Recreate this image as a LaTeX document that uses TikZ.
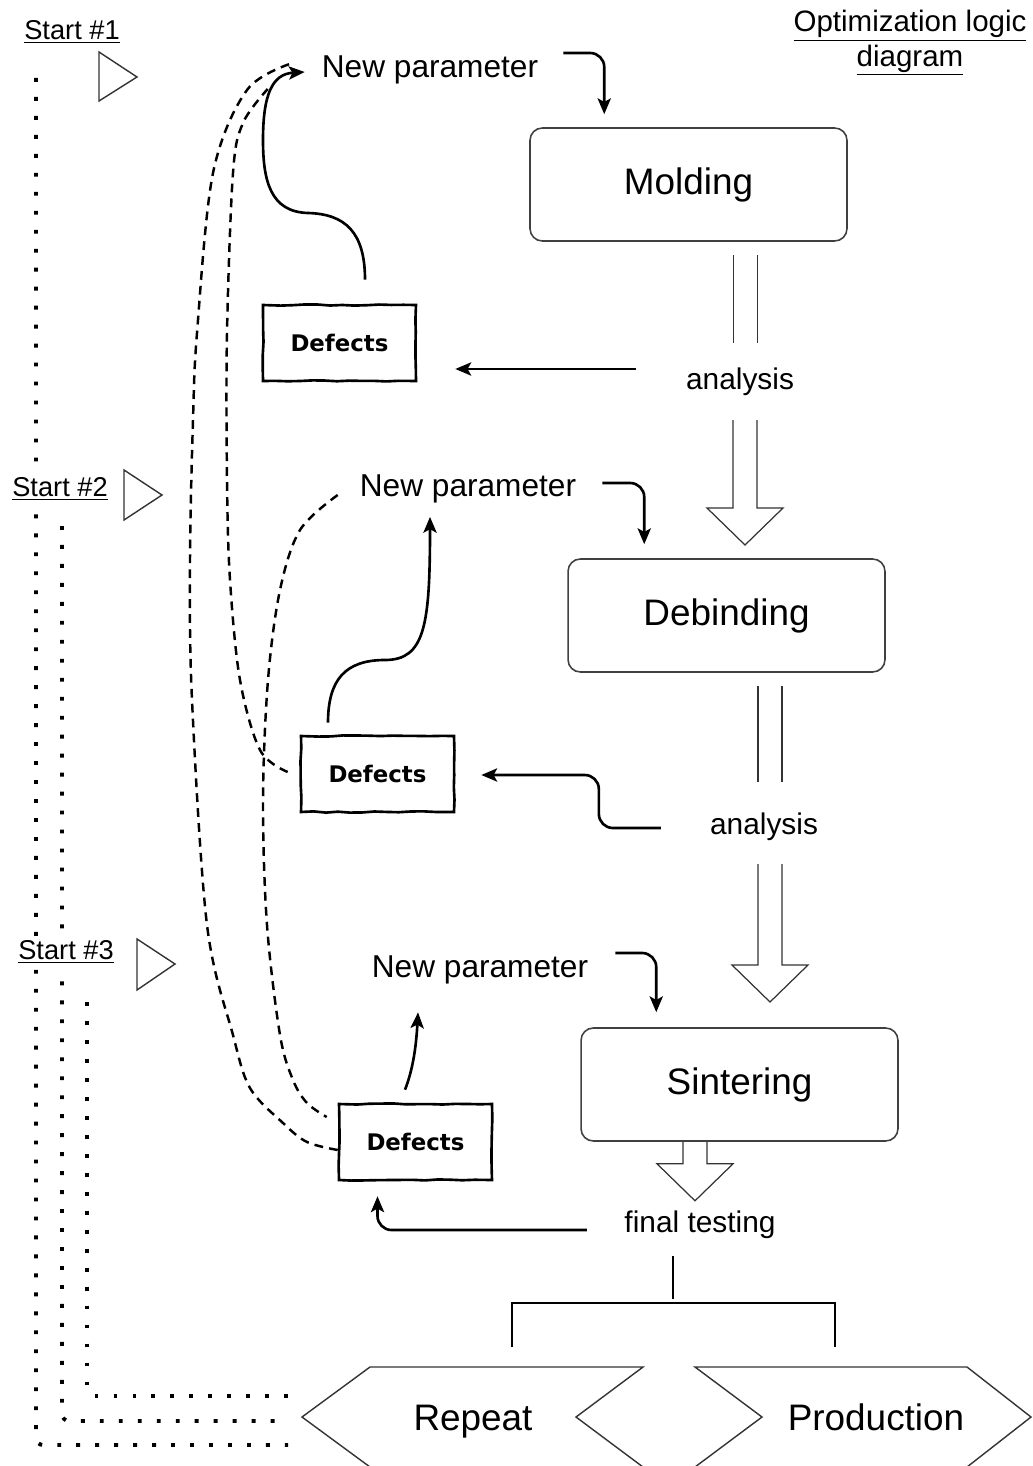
\documentclass[tikz,border=0pt]{standalone}
\usepackage{fontspec}
\setmainfont{Liberation Sans}
\newfontfamily\sketchfont{DejaVu Sans}
\usetikzlibrary{arrows.meta}
\usetikzlibrary{calc}
\usetikzlibrary{decorations.pathmorphing}

\begin{document}
\pgfmathsetseed{7}
\begin{tikzpicture}[x=0.02cm, y=-0.02cm,
    proc/.style={draw=black!75, line width=0.9pt, rounded corners=7pt, minimum width=6.34cm, minimum height=2.26cm, font=\fontsize{21}{25}\selectfont},
    defect/.style={draw, line width=1.5pt, minimum width=3.06cm, minimum height=1.52cm, font=\sketchfont\bfseries\fontsize{13}{15}\selectfont, decorate, decoration={random steps, segment length=7pt, amplitude=0.35pt}},
    param/.style={font=\fontsize{18}{22}\selectfont},
    anlbl/.style={font=\fontsize{17}{20}\selectfont},
    startlbl/.style={fill=white, inner sep=2pt, font=\fontsize{15.5}{19.8}\selectfont},
    big/.style={anchor=base, font=\fontsize{21}{25}\selectfont},
    arr/.style={line width=1.5pt, -{Stealth[length=9pt, width=7.5pt, inset=2pt]}},
    hollow/.style={draw=black!80, line width=0.7pt},
    fb/.style={line width=1.4pt, dash pattern=on 5pt off 3.5pt},
    dotline/.style={line width=2.2pt, dash pattern=on 2.2pt off 8.6pt},
    brk/.style={line width=1.3pt},
    tri/.style={draw=black!80, line width=0.8pt}
]
\useasboundingbox (0,0) rectangle (1033,1466);

\draw[dotline, rounded corners=4pt] (36,78) |- (288,1445);
\draw[dotline, rounded corners=4pt] (62,526) |- (275,1421);
\draw[dotline, rounded corners=4pt] (87,1002) |- (288,1396);

\node[startlbl] (start1) at (72,32) {\underline{Start \#1}};
\node[startlbl] (start2) at (60,489) {\underline{Start \#2}};
\node[startlbl] (start3) at (66,952) {\underline{Start \#3}};
\node[startlbl, fill=none, font=\fontsize{16.8}{19.8}\selectfont, align=center] (title) at (910,43) {\underline{Optimization logic}\\\underline{diagram}};
\draw[tri] (99,52) -- (99,101) -- (137,77) -- cycle;
\draw[tri] (124,470) -- (124,520) -- (162,495) -- cycle;
\draw[tri] (137,939) -- (137,990) -- (175,964) -- cycle;

\node[proc] (mold) at (688.5,184.5) {Molding};
\node[proc] (deb) at (726.5,615.5) {Debinding};
\node[proc] (sint) at (739.5,1084.5) {Sintering};

\node[param] (np1) at (430,70) {New parameter};
\node[param] (np2) at (468,489) {New parameter};
\node[param] (np3) at (480,970) {New parameter};

\node[anlbl] (an1) at (740,382) {analysis};
\node[anlbl] (an2) at (764,827) {analysis};
\node[anlbl] (ft) at (700,1225) {final testing};

\node[defect] (def1) at (339.5,343) {Defects};
\node[defect] (def2) at (377.5,774) {Defects};
\node[defect] (def3) at (415.5,1142) {Defects};

\draw[arr, rounded corners=8pt] ($(np1.east)+(19,-17)$) -| ($(mold.north west)+(75,-13)$);
\draw[arr, rounded corners=8pt] ($(np2.east)+(20,-6)$) -| ($(deb.north west)+(77,-14)$);
\draw[arr, rounded corners=8pt] ($(np3.east)+(21,-17)$) -| ($(sint.north west)+(76,-15)$);

\draw[hollow] ($(mold.south)+(45,13)$) -- ++(0,88) ++(24,0) -- ++(0,-88);
\draw[hollow] ($(an1)+(-7,38)$) -- ++(0,88) -- ++(-26,0) -- ++(38,37) -- ++(38,-37) -- ++(-26,0) -- ++(0,-88);
\draw[hollow] ($(deb.south)+(31.5,13)$) -- ++(0,96) ++(24,0) -- ++(0,-96);
\draw[hollow] ($(an2)+(-6,37)$) -- ++(0,101) -- ++(-26,0) -- ++(38,37) -- ++(38,-37) -- ++(-26,0) -- ++(0,-101);
\draw[hollow] ($(sint.south)+(-56.5,0)$) -- ++(0,22) -- ++(-26,0) -- ++(38,37) -- ++(38,-37) -- ++(-26,0) -- ++(0,-22);

\draw[arr] ($(an1.west)+(-44,-13)$) -- ($(def1.east)+(38,26)$);
\draw[arr, rounded corners=8pt] ($(an2.west)+(-43,1)$) -- ++(-62,0) |- ($(def2.east)+(26,1)$);
\draw[arr, rounded corners=8pt] ($(ft.west)+(-31.5,5)$) -| ($(def3.south)+(-38,15)$);

\draw[arr] ($(def1.north)+(25.5,-24)$) .. controls (365,232) and (345,214) .. (308,213) .. controls (270,212) and (263,180) .. (263,140) .. controls (263,95) and (272,74) .. ($(np1.west)+(-11,2)$);
\draw[arr] ($(def2.north)+(-49.5,-12)$) .. controls (328,680) and (345,660) .. (385,660) .. controls (425,660) and (430,625) .. ($(np2.south)+(-38,7.5)$);
\draw[arr] ($(def3.north)+(-10.5,-13)$) .. controls (412,1072) and (416,1050) .. ($(np3.south)+(-62,22)$);

\draw[fb] plot[smooth, tension=0.55] coordinates {($(def3.west)+(0,8)$) (307,1142) (283,1123) (250,1088) (233,1035) (207,925) (192,700) (190,560) (193,420) (197,333) (213,173) (247,90) ($(np1.west)+(-23,-7)$)};
\draw[fb] plot[smooth, tension=0.55] coordinates {($(def2.west)+(-12,-2)$) (260,750) (240,680) (230,580) (227,480) (227,333) (233,173) (243,123) ($(np1.west)+(-48,19)$)};
\draw[fb] plot[smooth, tension=0.55] coordinates {($(np2.west)+(-16,6)$) (300,530) (280,590) (268,680) (263,800) (267,925) (280,1035) (293,1080) (307,1103) ($(def3.west)+(-11,-25)$)};

\coordinate (reptip) at (302,1417);
\draw[tri] (reptip) -- ++(68,-50) -- ++(273,0) -- ++(-67,50) -- ++(67,50) -- ++(-273,0) -- cycle;
\draw[tri] (695,1367) -- ++(272,0) -- ++(64,50) -- ++(-64,50) -- ++(-272,0) -- ++(67,-50) -- cycle;
\node[big] (rep) at (473,1430) {Repeat};
\node[big] (prod) at (876,1430) {Production};

\draw[brk] ($(ft.south)+(-27,11)$) -- ++(0,43);
\draw[brk] (512,1347) |- (835,1303) -- (835,1347);
\end{tikzpicture}
\end{document}
